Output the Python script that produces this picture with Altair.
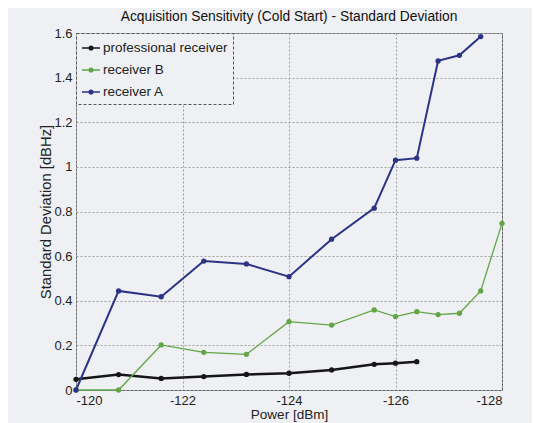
import altair as alt
import pandas as pd

# ---- data ----
power_a = [-120, -120.8, -121.6, -122.4, -123.2, -124, -124.8, -125.6, -126, -126.4, -126.8, -127.2, -127.6]
std_a = [0.0, 0.444, 0.418, 0.578, 0.565, 0.508, 0.676, 0.815, 1.03, 1.039, 1.475, 1.50, 1.584]

power_b = [-120, -120.8, -121.6, -122.4, -123.2, -124, -124.8, -125.6, -126, -126.4, -126.8, -127.2, -127.6, -128]
std_b = [0.0, 0.0, 0.202, 0.169, 0.160, 0.306, 0.291, 0.359, 0.329, 0.351, 0.338, 0.344, 0.444, 0.747]

power_p = [-120, -120.8, -121.6, -122.4, -123.2, -124, -124.8, -125.6, -126, -126.4]
std_p = [0.048, 0.069, 0.052, 0.060, 0.070, 0.075, 0.090, 0.115, 0.120, 0.127]

series = ["professional receiver", "receiver B", "receiver A"]
colors = ["#161616", "#62a546", "#2c3384"]
widths = [2.5, 1.3, 2.0]
x_ticks = [-120, -122, -124, -126, -128]
y_ticks = [0, 0.2, 0.4, 0.6, 0.8, 1, 1.2, 1.4, 1.6]

rows = []
for k, (name, xs, ys) in enumerate([(series[0], power_p, std_p), (series[1], power_b, std_b), (series[2], power_a, std_a)]):
    for i, (x, y) in enumerate(zip(xs, ys)):
        rows.append({"receiver": name, "power": x, "std": y, "order": i, "w": widths[k]})
df = pd.DataFrame(rows)

FONT = "Liberation Sans"
BG = "#eef0f3"

x_enc = alt.X(
    "power:Q",
    scale=alt.Scale(domain=[-128, -120], reverse=True, nice=False),
    axis=alt.Axis(
        title="Power [dBm]", values=x_ticks, grid=True,
        labelExpr="'-' + abs(datum.value)",
        tickSize=0, labelPadding=4, titlePadding=0,
        labelFontSize=13, titleFontSize=13.5, labelColor="#222", titleColor="#222",
        labelFont=FONT, titleFont=FONT, titleFontWeight="normal",
        domain=False, gridColor="#8a8a8a", gridDash=[2, 2], gridWidth=0.8,
    ),
)
y_enc = alt.Y(
    "std:Q",
    scale=alt.Scale(domain=[0, 1.6], nice=False),
    axis=alt.Axis(
        title="Standard Deviation [dBHz]", values=y_ticks, grid=True, format="~g",
        tickSize=0, labelPadding=4, titlePadding=0,
        labelFontSize=13, titleFontSize=14.8, labelColor="#222", titleColor="#222",
        labelFont=FONT, titleFont=FONT, titleFontWeight="normal",
        domain=False, gridColor="#8a8a8a", gridDash=[2, 2], gridWidth=0.8,
    ),
)
color_enc = alt.Color(
    "receiver:N",
    scale=alt.Scale(domain=series, range=colors),
    legend=alt.Legend(
        title=None, orient="none", legendX=0, legendY=0,
        symbolType="M-1,0L1,0M-0.2,0A0.2,0.2,0,1,1,0.2,0A0.2,0.2,0,1,1,-0.2,0",
        symbolSize=324, symbolStrokeWidth=1.5,
        labelFontSize=13.5, labelFont=FONT, labelColor="#222", labelOffset=2,
        rowPadding=5, padding=5,
        strokeColor="#555", fillColor=BG,
    ),
)

lines = alt.Chart(df).mark_line().encode(
    x=x_enc, y=y_enc, color=color_enc, order="order:Q",
    strokeWidth=alt.StrokeWidth("w:Q", scale=None),
)
points = alt.Chart(df).mark_circle(size=28, opacity=1).encode(
    x="power:Q", y="std:Q",
    color=alt.Color("receiver:N", scale=alt.Scale(domain=series, range=colors), legend=None),
)

chart = (
    alt.layer(lines, points)
    .properties(
        width=426, height=357,
        title=alt.TitleParams(
            "Acquisition Sensitivity (Cold Start) - Standard Deviation",
            fontSize=13.8, font=FONT, fontWeight="normal", color="#111", offset=3, anchor="middle",
        ),
        padding={"left": 68, "top": 25, "right": 30, "bottom": 36},
        autosize=alt.AutoSizeParams(type="none"),
    )
    .configure(background=BG)
    .configure_view(stroke="#555", strokeDash=[3, 1], strokeWidth=1)
    .configure_legend(strokeDash=[3, 2])
)

chart.save("out.html", embed_options={"renderer": "svg", "actions": False})
